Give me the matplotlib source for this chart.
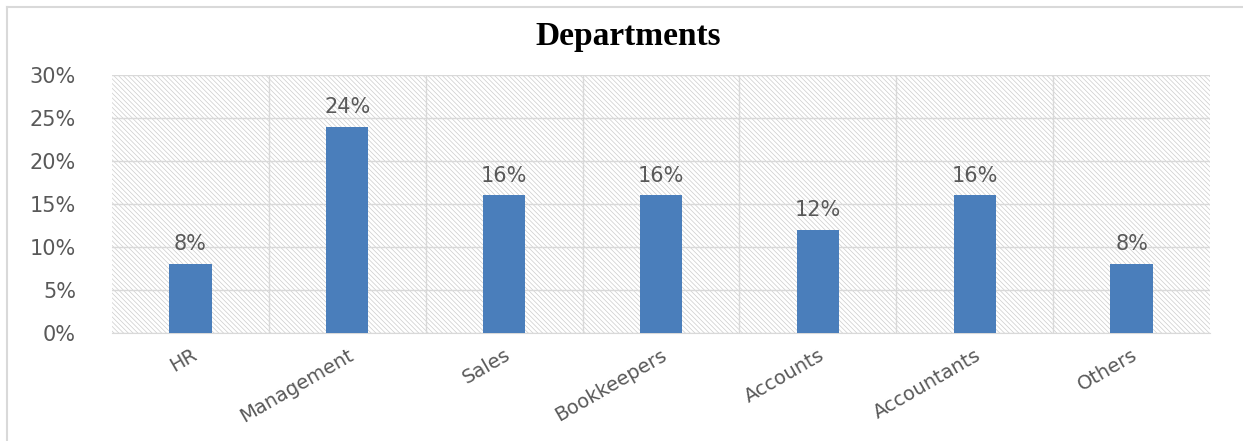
import matplotlib
matplotlib.use("Agg")
import matplotlib.pyplot as plt
from matplotlib.lines import Line2D
from matplotlib.patches import Rectangle
from matplotlib.ticker import PercentFormatter, MultipleLocator, FixedLocator

categories = ["HR", "Management", "Sales", "Bookkeepers", "Accounts", "Accountants", "Others"]
values = [8, 24, 16, 16, 12, 16, 8]
title = "Departments"

plt.rcParams['hatch.linewidth'] = 0.5
plt.rcParams['hatch.color'] = '#cccccc'

fig = plt.figure(figsize=(12.43, 4.41), dpi=100)
ax = fig.add_axes([112/1243, 1-333/441, (1210-112)/1243, (333-75)/441])

# hatched background
bg = Rectangle((0, 0), 1, 1, transform=ax.transAxes, facecolor='white',
               edgecolor='#cccccc', hatch='\\' * 7, linewidth=0, zorder=0)
ax.add_patch(bg)
ax.set_facecolor('white')

x = list(range(len(categories)))
bars = ax.bar(x, values, width=0.27, color='#4a7ebb', zorder=3)

ax.set_xlim(-0.5, len(categories) - 0.5)
ax.set_ylim(0, 30)
ax.yaxis.set_major_locator(MultipleLocator(5))
ax.yaxis.set_major_formatter(PercentFormatter(decimals=0))

# grid lines
ax.yaxis.grid(True, color='#d9d9d9', linewidth=1.0, zorder=1)
ax.xaxis.set_minor_locator(FixedLocator([i + 0.5 for i in range(len(categories) - 1)]))
ax.xaxis.grid(True, which='minor', color='#d9d9d9', linewidth=1.0, zorder=1)
ax.set_axisbelow(True)

for s in ax.spines.values():
    s.set_visible(False)
ax.spines['bottom'].set_visible(True)
ax.spines['bottom'].set_color('#d9d9d9')

ax.set_xticks(x)
ax.set_xticklabels(categories, rotation=30, ha='right', rotation_mode='anchor',
                   fontsize=14, color='#595959', family='DejaVu Sans')
ax.tick_params(axis='x', which='both', length=0, pad=9)
ax.tick_params(axis='y', length=0, pad=26, labelsize=15, labelcolor='#595959')

for xi, v in zip(x, values):
    ax.annotate(f"{v}%", (xi, v), xytext=(0, 7), textcoords='offset points',
                ha='center', va='bottom', fontsize=15, color='#595959')

fig.text(628/1243, 1-37/441, title, ha='center', va='center',
         fontsize=24, fontweight='bold', family='Liberation Serif', color='black')

# outer frame
fig.add_artist(Line2D([7/1243, 1], [1-7/441, 1-7/441], color='#d9d9d9', linewidth=1.5,
                      transform=fig.transFigure))
fig.add_artist(Line2D([7/1243, 7/1243], [0, 1-7/441], color='#d9d9d9', linewidth=1.5,
                      transform=fig.transFigure))

fig.savefig("out.png", dpi=100)
